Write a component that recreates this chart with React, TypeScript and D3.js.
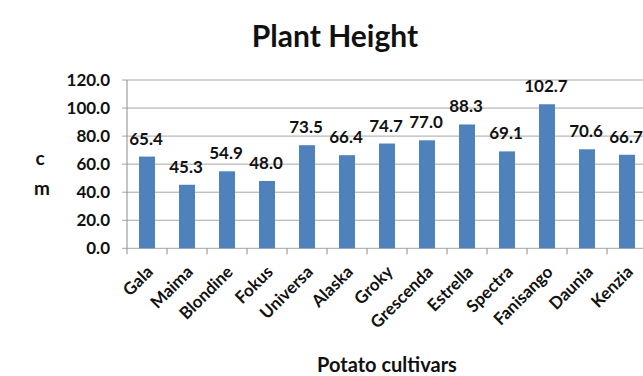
import * as d3 from 'd3';

const cultivars = [
  'Gala', 'Maima', 'Blondine', 'Fokus', 'Universa', 'Alaska', 'Groky',
  'Grescenda', 'Estrella', 'Spectra', 'Fanisango', 'Daunia', 'Kenzia',
];
const heights = [65.4, 45.3, 54.9, 48.0, 73.5, 66.4, 74.7, 77.0, 88.3, 69.1, 102.7, 70.6, 66.7];
const yTicks = [0, 20, 40, 60, 80, 100, 120];

const W = 643;
const H = 376;
const FONT = 'Lato, "Open Sans", sans-serif';

export default function App() {
  // plot area runs past the right edge, like the cropped original
  const x = d3.scaleBand<string>().domain(cultivars).range([127, 647]).paddingInner(0.6).paddingOuter(0.3);
  const y = d3.scaleLinear().domain([0, 120]).range([248.3, 80]);
  const step = x.step();
  const x0 = 127;

  return (
    <svg width={W} height={H} style={{ position: 'absolute', left: 0, top: 0, background: '#fff' }} fontFamily={FONT}>
      {/* title */}
      <text x={335} y={47} textAnchor="middle" fontSize={30} fontWeight="bold" fill="#111">
        Plant Height
      </text>

      {/* gridlines + y labels */}
      {yTicks.map((t) => (
        <g key={t}>
          <line x1={x0 - 5} x2={W} y1={y(t)} y2={y(t)} stroke="#a6a6a6" strokeWidth={1} />
          <text x={110} y={y(t) + 6} textAnchor="end" fontSize={17} fontWeight="bold" fill="#111">
            {t.toFixed(1)}
          </text>
        </g>
      ))}
      <line x1={x0} x2={x0} y1={y(120)} y2={y(0)} stroke="#8c8c8c" />

      {/* category ticks */}
      {d3.range(cultivars.length + 1).map((i) => (
        <line key={i} x1={x0 + i * step} x2={x0 + i * step} y1={y(0)} y2={y(0) + 6} stroke="#8c8c8c" />
      ))}

      {/* bars */}
      {cultivars.map((c, i) => (
        <rect
          key={c}
          x={x(c)}
          y={y(heights[i])}
          width={x.bandwidth()}
          height={y(0) - y(heights[i])}
          fill="#4f81bd"
        />
      ))}

      {/* value labels */}
      {cultivars.map((c, i) => (
        <text
          key={c}
          x={(x(c) ?? 0) + x.bandwidth() / 2 - 1}
          y={y(heights[i]) - 12}
          textAnchor="middle"
          fontSize={17}
          fontWeight="bold"
          fill="#111"
        >
          {heights[i].toFixed(1)}
        </text>
      ))}

      {/* category labels */}
      {cultivars.map((c) => {
        const cx = (x(c) ?? 0) + x.bandwidth() / 2;
        return (
          <text
            key={c}
            transform={`translate(${cx + 7},${273}) rotate(-45)`}
            textAnchor="end"
            fontSize={17}
            fontWeight="bold"
            fill="#111"
          >
            {c}
          </text>
        );
      })}

      {/* y axis title, stacked letters */}
      <text x={40} y={165} textAnchor="middle" fontSize={19} fontWeight="bold" fill="#111">c</text>
      <text x={42} y={195} textAnchor="middle" fontSize={19} fontWeight="bold" fill="#111">m</text>

      {/* x axis title */}
      <text x={387} y={372} textAnchor="middle" fontSize={20} fontWeight="bold" fill="#111">
        Potato cultivars
      </text>
    </svg>
  );
}
